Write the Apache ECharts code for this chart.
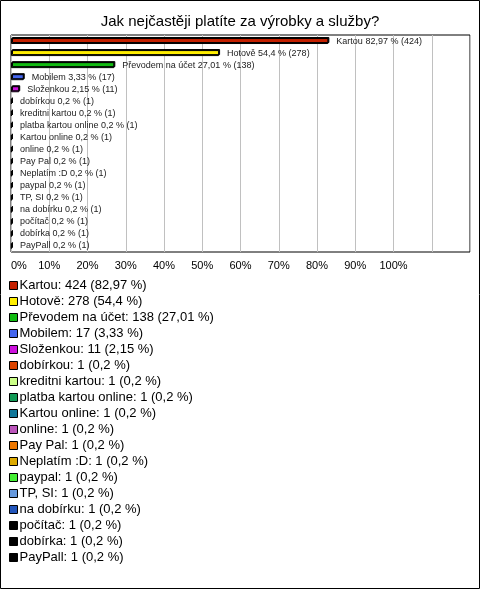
<!DOCTYPE html>
<html>
<head>
<meta charset="utf-8">
<script src="https://cdn.jsdelivr.net/npm/echarts@6/dist/echarts.min.js"></script>
<style>
html,body{margin:0;padding:0;background:#fff;}
#c{width:480px;height:589px;}
</style>
</head>
<body>
<div id="c"></div>
<script>
const categories = ['Kartou','Hotově','Převodem na účet','Mobilem','Složenkou','dobírkou','kreditni kartou','platba kartou online','Kartou online','online','Pay Pal','Neplatím :D','paypal','TP, SI','na dobírku','počítač','dobírka','PayPall'];
const percents = [82.97, 54.4, 27.01, 3.33, 2.15, 0.2, 0.2, 0.2, 0.2, 0.2, 0.2, 0.2, 0.2, 0.2, 0.2, 0.2, 0.2, 0.2];
const counts = [424, 278, 138, 17, 11, 1, 1, 1, 1, 1, 1, 1, 1, 1, 1, 1, 1, 1];
const colors = ['#c42000','#ffee00','#11bb11','#4466ee','#cc11dd','#dd4400','#ccff88','#119955','#117799','#bb55bb','#ee7700','#ddaa00','#44ee33','#6699dd','#2255bb','#000000','#000000','#000000'];
const xTicks = [0,10,20,30,40,50,60,70,80,90,100];

const fmt = v => String(v).replace('.', ',');
const FONT = 'Liberation Sans, Arial, sans-serif';

const series = categories.map((name, i) => ({
  name: name,
  type: 'bar',
  stack: 'all',
  barWidth: 6,
  data: categories.map((_, j) => j === i ? percents[i] : '-'),
  itemStyle: {
    color: colors[i],
    borderColor: '#000',
    borderWidth: 1,
    shadowColor: '#000',
    shadowOffsetX: 1,
    shadowOffsetY: -1,
    shadowBlur: 0
  },
  label: {
    show: true,
    position: 'right',
    distance: 8,
    fontSize: 9,
    fontFamily: FONT,
    color: '#222',
    formatter: () => name + ' ' + fmt(percents[i]) + ' % (' + counts[i] + ')'
  },
  emphasis: {disabled: true},
  animation: false
}));

const chart = echarts.init(document.getElementById('c'));
chart.setOption({
  animation: false,
  color: colors,
  title: {
    text: 'Jak nejčastěji platíte za výrobky a služby?',
    left: 'center',
    top: 9,
    textStyle: {fontSize: 15, fontWeight: 'normal', color: '#000', fontFamily: FONT}
  },
  graphic: [{
    type: 'rect',
    shape: {x: 0.5, y: 0.5, width: 479, height: 588},
    style: {fill: 'none', stroke: '#000', lineWidth: 1},
    silent: true
  }],
  grid: {
    left: 11, right: 10, top: 35, bottom: 337,
    show: true, borderColor: '#000', borderWidth: 1, backgroundColor: 'transparent'
  },
  xAxis: {
    type: 'value',
    min: 0, max: 120, interval: 10,
    axisLine: {show: false},
    axisTick: {show: false},
    splitLine: {show: true, lineStyle: {color: '#c0c0c0', width: 1}},
    axisLabel: {
      color: '#000', fontSize: 11, fontFamily: FONT, margin: 8,
      alignMinLabel: 'left',
      formatter: v => xTicks.indexOf(v) >= 0 ? v + '%' : ''
    }
  },
  yAxis: {
    type: 'category',
    data: categories,
    inverse: true,
    axisLine: {show: false},
    axisTick: {show: false},
    axisLabel: {show: false}
  },
  legend: {
    orient: 'vertical',
    left: 4, top: 274,
    itemWidth: 8, itemHeight: 8,
    itemGap: 3,
    icon: 'rect',
    data: categories.map((n, i) => ({name: n, itemStyle: {color: colors[i], borderColor: '#000', borderWidth: 1}})),
    textStyle: {fontSize: 13, fontFamily: FONT, color: '#000', padding: [0,0,0,-3]},
    formatter: n => {
      const i = categories.indexOf(n);
      return n + ': ' + counts[i] + ' (' + fmt(percents[i]) + ' %)';
    },
    selectedMode: false
  },
  series: series
});
</script>
</body>
</html>
